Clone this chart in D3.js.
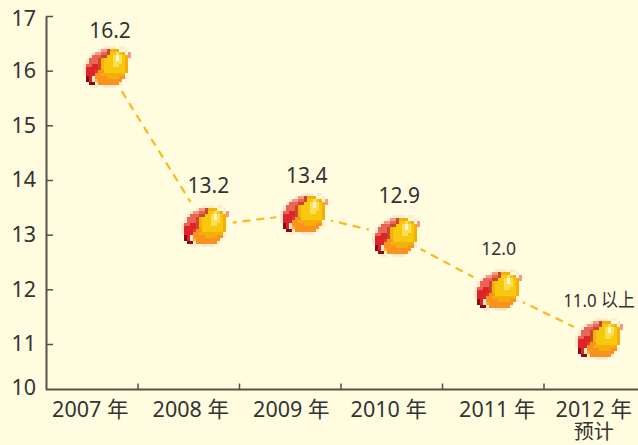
<!DOCTYPE html>
<html><head><meta charset="utf-8">
<script src="https://cdn.jsdelivr.net/npm/d3@7"></script>
<style>
html,body{margin:0;padding:0;background:#FFFCE0;overflow:hidden}
text{font-family:"Noto Sans","Noto Sans CJK SC",sans-serif;fill:#333}
</style></head><body>
<svg id="c" width="638" height="445"></svg>
<script>
const categories = ["2007 年","2008 年","2009 年","2010 年","2011 年","2012 年"];
const subLabels = ["","","","","","预计"];
const yTicks = [10,11,12,13,14,15,16,17];
const labels = ["16.2","13.2","13.4","12.9","12.0","11.0 以上"];
const plotted = [16.06,13.16,13.38,12.97,11.99,11.09];
const slots = [0,1,2,2.94,3.97,5];
const sprite = [
".......hhhh.hh..",
".....hppbggg..h.",
"...hppssbyylyg.p",
"..hsssbbyylwlygp",
".hsssbgyyylwlyg.",
".hsssbgyyylllyg.",
"hssrrbgyyyllyyg.",
"hrrrrbgyyyyyyyg.",
"hrrrbooyyyyyyyg.",
"hrrroogggggggg..",
".drhooooggggooh.",
".drhaoooooooo...",
"..ddhoooooooh...",
"...hh..hhhh....."];
const palette = {h:"#FDEBCF",p:"#F49A86",s:"#EC6455",r:"#E0222A",d:"#8A0A10",o:"#F9921E",
  y:"#F8C80E",l:"#FDDF55",w:"#FFF6CC",g:"#F6AE0A",b:"#C8482A",a:"#FBB02A"};
const labelShift = [3,2,1,-3,4,-1];
const valueShift = [3,-1,1,-1,-3,0];
const valueDx = [3,3,3,3,1,0];
const valueSquash = [1,1,1,1,0.93,0.89];

const svg = d3.select("#c");
const y = d3.scaleLinear().domain([10,11,17]).range([389.5,344,16]);
const band = d3.scaleBand().domain(categories).range([36.5,645.5]);
const xm = d3.scaleLinear().domain([0,5]).range([107,599]);
const axisColor = "#55524a";

// y axis
const gy = svg.append("g").attr("transform","translate(46,0)")
  .call(d3.axisLeft(y).tickValues(yTicks).tickSize(-7).tickSizeOuter(0).tickPadding(10).tickFormat(d3.format("d")));
gy.select(".domain").attr("stroke",axisColor).attr("stroke-width",2);
gy.selectAll(".tick line").attr("stroke",axisColor).attr("stroke-width",1.5);
gy.selectAll(".tick text").attr("font-size",21.5).style("fill","#333");
gy.selectAll(".tick").filter(d=>d===10).select("line").remove();
gy.selectAll(".tick").filter(d=>d===10).select("text").attr("dy","0.25em");
gy.selectAll(".tick").filter(d=>d===17).select("text").attr("dy","0.46em");

// x axis
const gx = svg.append("g").attr("transform","translate(0,389.5)")
  .call(d3.axisBottom(band).tickSize(0).tickPadding(10));
gx.select(".domain").attr("stroke",axisColor).attr("stroke-width",2).attr("d","M46,0H638");
gx.selectAll(".tick text").attr("font-size",21.5).attr("dx",(d,i)=>labelShift[i]).attr("dy","0.8em").style("fill","#333");
gx.selectAll(".bound").data(categories.slice(0,-1)).enter().append("line").attr("class","bound")
  .attr("x1",d=>band(d)+band.step()).attr("x2",d=>band(d)+band.step())
  .attr("y1",0).attr("y2",-6).attr("stroke",axisColor).attr("stroke-width",1.5);
svg.selectAll(".sub").data(categories).enter().append("text").attr("class","sub")
  .attr("x",(d,i)=>band(d)+band.bandwidth()/2+labelShift[i]).attr("y",439).attr("text-anchor","middle")
  .attr("font-size",20).text((d,i)=>subLabels[i]);

// dashed line
const pts = categories.map((c,i)=>[xm(slots[i]),y(plotted[i])]);
svg.append("path").attr("d",d3.line()(pts)).attr("fill","none").attr("stroke","#FBB91A")
  .attr("stroke-width",2.2).attr("stroke-dasharray","8 6");

// markers
const cell = 3;
const cw = sprite[0].length*cell, ch = sprite.length*cell;
const cells = [];
sprite.forEach((row,r)=>row.split("").forEach((k,c)=>{ if(palette[k]) cells.push({r,c,k}); }));
const m = svg.selectAll(".m").data(pts).enter().append("g").attr("class","m")
  .attr("transform",d=>`translate(${Math.round(d[0])},${Math.round(d[1])})`);
m.append("circle").attr("r",28).attr("fill","#FFFCE0");
m.selectAll("rect").data(cells).enter().append("rect")
  .attr("x",d=>Math.round(d.c*cell-cw/2)).attr("y",d=>Math.round(d.r*cell-ch/2))
  .attr("width",cell).attr("height",cell).attr("fill",d=>palette[d.k]).attr("shape-rendering","crispEdges");

// value labels
svg.selectAll(".v").data(pts).enter().append("text").attr("class","v")
  .attr("transform",(d,i)=>`translate(${d[0]+valueDx[i]},${d[1]-32+valueShift[i]}) scale(${valueSquash[i]},1)`)
  .attr("text-anchor","middle")
  .attr("font-size",(d,i)=>i<4?21:19)
  .text((d,i)=>labels[i]);
</script></body></html>
